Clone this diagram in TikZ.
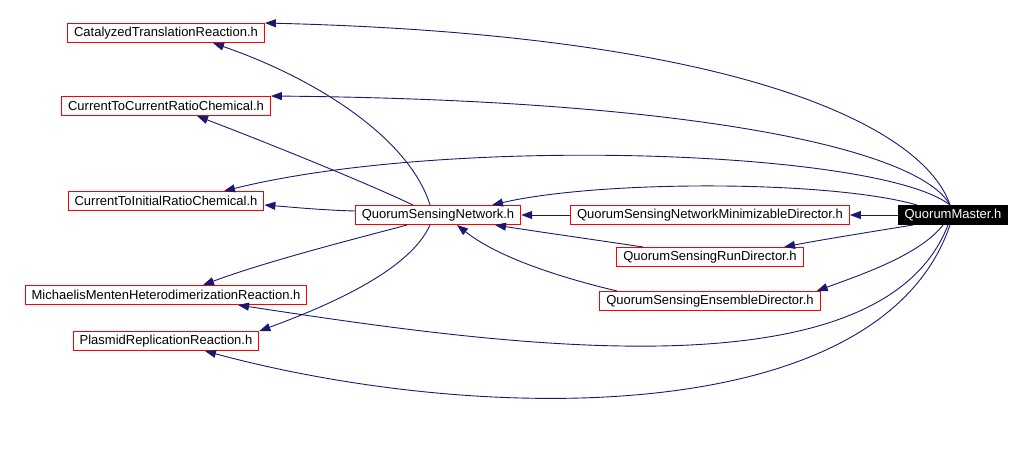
\documentclass[tikz,border=0pt]{standalone}
\usepackage{fontspec}
\setmainfont{Liberation Sans}
\usepackage{tikz}
\usetikzlibrary{arrows.meta}

\definecolor{edgeblue}{HTML}{191970}

\begin{document}
\begin{tikzpicture}[x=1pt, y=-1pt,
    hdr/.style={draw=red, line width=1pt, fill=white, inner xsep=6.5pt, inner ysep=0pt,
      minimum height=19pt, font=\fontsize{13}{15}\selectfont},
    top/.style={hdr, draw=black, fill=black, text=white},
    dep/.style={edgeblue, line width=0.9pt, -{Triangle[length=11pt,width=8pt]}}]
    \useasboundingbox (0,0) rectangle (1033,450);

    \node[hdr] (cat) at (166,33) {CatalyzedTranslationReaction.h};
    \node[hdr] (ctc) at (166,106) {CurrentToCurrentRatioChemical.h};
    \node[hdr] (cti) at (166,201) {CurrentToInitialRatioChemical.h};
    \node[hdr] (mm) at (166,295) {MichaelisMentenHeterodimerizationReaction.h};
    \node[hdr] (pl) at (166,341) {PlasmidReplicationReaction.h};
    \node[hdr] (qsn) at (438,215) {QuorumSensingNetwork.h};
    \node[hdr] (qsnm) at (710,215) {QuorumSensingNetworkMinimizableDirector.h};
    \node[hdr] (qsr) at (710,257) {QuorumSensingRunDirector.h};
    \node[hdr] (qse) at (710,301) {QuorumSensingEnsembleDirector.h};
    \node[top] (qm) at (953,215) {QuorumMaster.h};

    \draw[dep] ([xshift=-3pt]qm.north) .. controls (925,130) and (750,35) .. (cat.north east);
    \draw[dep] ([xshift=-3pt]qm.north) .. controls (920,150) and (700,100) .. (ctc.north east);
    \draw[dep] ([xshift=-3pt]qm.north) .. controls (880,150) and (450,135) .. ([xshift=58pt]cti.north);
    \draw[dep] ([xshift=-36pt]qm.north) .. controls (830,180) and (600,180) .. ([xshift=54pt]qsn.north);
    \draw[dep] (qm.west) -- (qsnm.east);
    \draw[dep] ([xshift=-40pt]qm.south) .. controls (870,232) and (820,240) .. ([xshift=74pt]qsr.north);
    \draw[dep] ([xshift=-10pt]qm.south) .. controls (920,255) and (860,275) .. ([xshift=-4pt]qse.north east);
    \draw[dep] ([xshift=-5pt]qm.south) .. controls (880,400) and (500,345) .. ([xshift=72pt]mm.south);
    \draw[dep] ([xshift=-3pt]qm.south) .. controls (880,430) and (480,425) .. ([xshift=39pt]pl.south);

    \draw[dep] ([xshift=-8pt]qsn.north) .. controls (410,140) and (320,80) .. ([xshift=47pt]cat.south);
    \draw[dep] ([xshift=-25pt]qsn.north) .. controls (360,180) and (260,140) .. ([xshift=31pt]ctc.south);
    \draw[dep] ([yshift=4pt]qsn.west) .. controls (320,210) and (290,207) .. ([yshift=-4pt]cti.east);
    \draw[dep] ([xshift=-31pt]qsn.south) .. controls (370,235) and (270,260) .. ([xshift=37pt]mm.north);
    \draw[dep] ([xshift=-8pt]qsn.south) .. controls (410,270) and (330,305) .. (pl.north east);

    \draw[dep] (qsnm.west) -- (qsn.east);
    \draw[dep] ([xshift=-67pt]qsr.north) .. controls (610,242) and (540,232) .. ([xshift=57pt]qsn.south);
    \draw[dep] ([xshift=-93pt]qse.north) .. controls (550,275) and (495,255) .. ([xshift=19pt]qsn.south);
  \end{tikzpicture}
\end{document}
